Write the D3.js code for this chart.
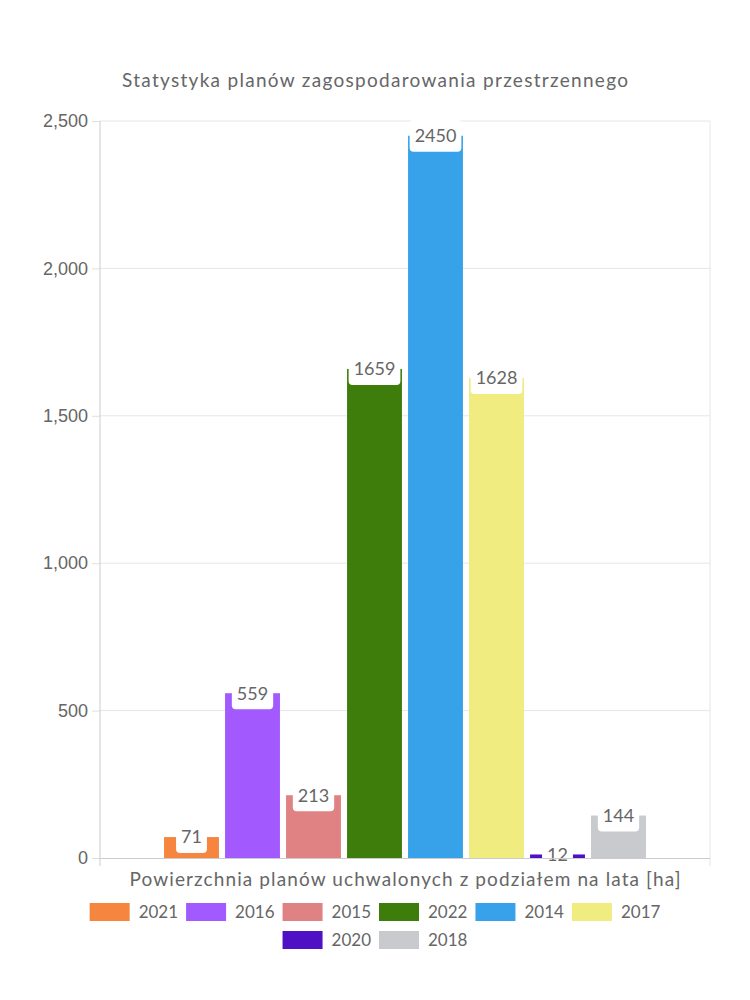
<!DOCTYPE html>
<html>
<head>
<meta charset="utf-8">
<script src="https://cdn.jsdelivr.net/npm/d3@7"></script>
<style>
  html, body { margin: 0; padding: 0; background: #fff; }
  svg { display: block; }
</style>
</head>
<body>
<script>
// ---- data ----
const chartTitle = "Statystyka planów zagospodarowania przestrzennego";
const groupLabel = "Powierzchnia planów uchwalonych z podziałem na lata [ha]";
const years = ["2021", "2016", "2015", "2022", "2014", "2017", "2020", "2018"];
const values = [71, 559, 213, 1659, 2450, 1628, 12, 144];
const yTicks = [0, 500, 1000, 1500, 2000, 2500];
const colors = ["#f5853f", "#a259fe", "#e08283", "#3e7c0b", "#37a2ea", "#f0ec7f", "#5010c3", "#c9cacd"];

// ---- layout ----
const W = 750, H = 1000;
const pLeft = 100, pRight = 710, pTop = 121, pBottom = 858;
const mainFont = "Lato, 'Noto Sans', sans-serif";
const tickFont = "'Liberation Sans', Arial, sans-serif";
const textColor = "#666";

const svg = d3.select("body").append("svg").attr("width", W).attr("height", H);

const y = d3.scaleLinear().domain([0, 2500]).range([pBottom, pTop]);
const x0 = d3.scaleBand().domain([groupLabel]).range([pLeft, pRight]).paddingInner(0.2).paddingOuter(0.1);
const x1 = d3.scaleBand().domain(years).range([0, x0.bandwidth()]).paddingInner(0.1).paddingOuter(0.05);
const color = d3.scaleOrdinal().domain(years).range(colors);

// title
svg.append("text")
  .attr("x", 375).attr("y", 87)
  .attr("text-anchor", "middle")
  .attr("font-family", mainFont).attr("font-size", 19)
  .attr("fill", textColor)
  .attr("textLength", 506).attr("lengthAdjust", "spacing")
  .text(chartTitle);

// gridlines
const grid = svg.append("g");
grid.selectAll("line.h").data(yTicks.filter(d => d > 0)).join("line")
  .attr("class", "h")
  .attr("x1", pLeft).attr("x2", pRight)
  .attr("y1", d => y(d)).attr("y2", d => y(d))
  .attr("stroke", "#e6e6e6").attr("stroke-width", 1);
grid.append("line").attr("x1", pRight).attr("x2", pRight).attr("y1", pTop).attr("y2", pBottom + 8)
  .attr("stroke", "#e6e6e6");

// y axis
const yAxis = svg.append("g")
  .attr("transform", `translate(${pLeft},0)`)
  .call(d3.axisLeft(y).tickValues(yTicks).tickFormat(d3.format(",")).tickSize(8).tickPadding(4));
yAxis.select(".domain").remove();
yAxis.selectAll(".tick line").attr("stroke", "#e0e0e0");
yAxis.selectAll(".tick text")
  .attr("font-family", tickFont).attr("font-size", 18).attr("fill", textColor);

// bars
const g = svg.append("g").attr("transform", `translate(${x0(groupLabel)},0)`);
g.selectAll("rect.bar").data(years).join("rect")
  .attr("class", "bar")
  .attr("x", d => x1(d))
  .attr("width", x1.bandwidth())
  .attr("y", (d, i) => y(values[i]))
  .attr("height", (d, i) => y(0) - y(values[i]))
  .attr("fill", d => color(d));

// axis lines
svg.append("line").attr("x1", pLeft).attr("x2", pLeft).attr("y1", pTop).attr("y2", pBottom + 8)
  .attr("stroke", "#cccccc");
svg.append("line").attr("x1", pLeft).attr("x2", pRight).attr("y1", pBottom + 0.5).attr("y2", pBottom + 0.5)
  .attr("stroke", "#cccccc");

// value labels with white boxes
const lbl = g.selectAll("g.lbl").data(years).join("g")
  .attr("class", "lbl")
  .attr("transform", (d, i) => `translate(${x1(d) + x1.bandwidth() / 2},${y(values[i])})`);
lbl.append("rect").attr("fill", "#fff").attr("rx", 4);
const ltext = lbl.append("text")
  .attr("text-anchor", "middle").attr("dy", "0.35em")
  .attr("font-family", mainFont).attr("font-size", 18)
  .attr("fill", textColor)
  .text((d, i) => values[i]);
ltext.each(function () {
  const w = this.getComputedTextLength() + 10;
  d3.select(this.parentNode).select("rect")
    .attr("x", -w / 2).attr("width", w).attr("y", -16).attr("height", 32);
});

// x group label
svg.append("text")
  .attr("x", x0(groupLabel) + x0.bandwidth() / 2).attr("y", 886)
  .attr("text-anchor", "middle")
  .attr("font-family", mainFont).attr("font-size", 19)
  .attr("fill", textColor)
  .attr("textLength", 551).attr("lengthAdjust", "spacing")
  .text(groupLabel);

// legend
const legend = svg.append("g");
const boxW = 40, boxH = 18, gapText = 9, gapItem = 8, maxRow = 620;
const items = years.map((yr, i) => {
  const t = legend.append("text")
    .attr("font-family", mainFont).attr("font-size", 17).attr("fill", textColor)
    .attr("dy", "0.35em").text(yr);
  const tw = t.node().getComputedTextLength();
  const r = legend.append("rect").attr("width", boxW).attr("height", boxH).attr("fill", colors[i]);
  return { t, r, w: boxW + gapText + tw };
});
const rows = [];
let cur = [], curW = 0;
items.forEach(it => {
  const add = (cur.length ? gapItem : 0) + it.w;
  if (cur.length && curW + add > maxRow) { rows.push({ items: cur, w: curW }); cur = []; curW = 0; }
  curW += (cur.length ? gapItem : 0) + it.w;
  cur.push(it);
});
if (cur.length) rows.push({ items: cur, w: curW });
rows.forEach((row, ri) => {
  const cy = 912 + ri * 28;
  let xx = 375 - row.w / 2;
  row.items.forEach(it => {
    it.r.attr("x", xx).attr("y", cy - boxH / 2);
    it.t.attr("x", xx + boxW + gapText).attr("y", cy);
    xx += it.w + gapItem;
  });
});
</script>
</body>
</html>
